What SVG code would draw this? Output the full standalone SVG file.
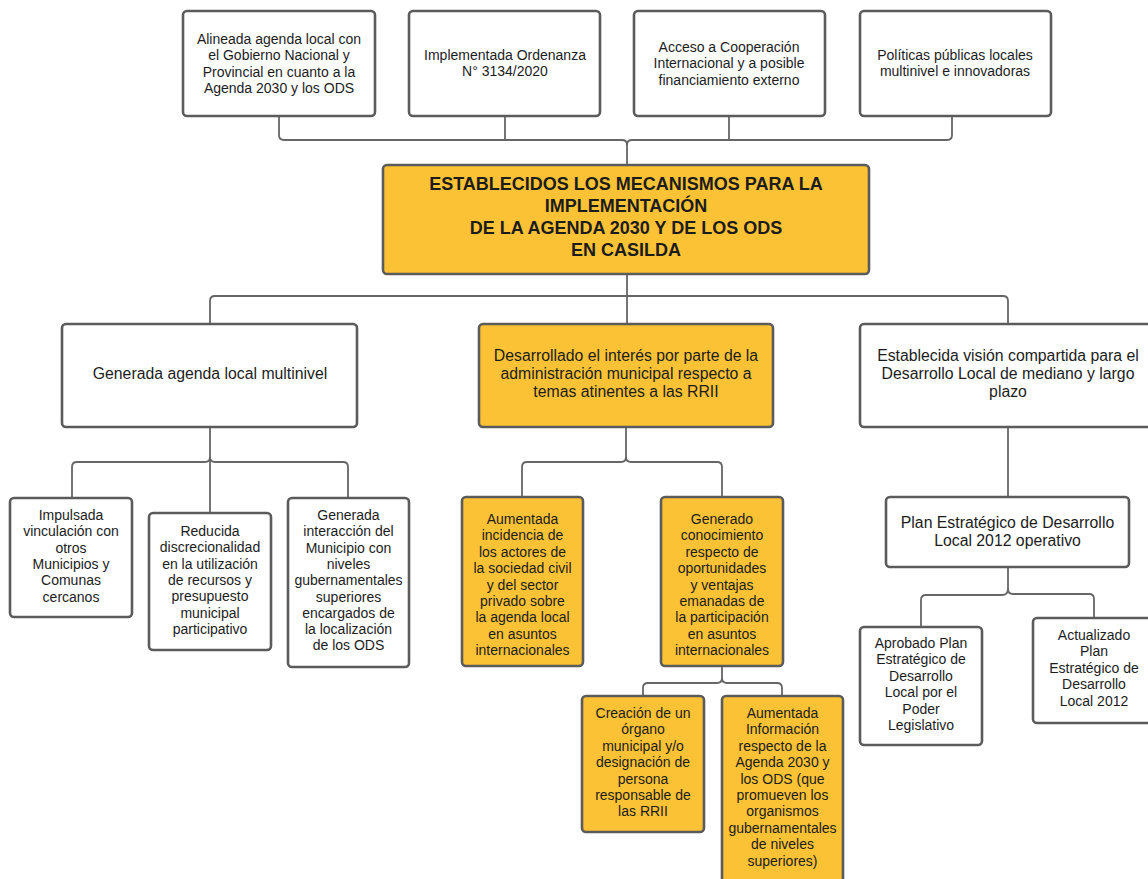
<svg xmlns="http://www.w3.org/2000/svg" width="1148" height="879" viewBox="0 0 1148 879">
<style>
.b{fill:#ffffff;stroke:#5b5b5b;stroke-width:2.6}
.y{fill:#fbc236;stroke:#5b5b5b;stroke-width:2.6}
.c{fill:none;stroke:#666666;stroke-width:1.8}
text{font-family:"Liberation Sans",Arial,sans-serif;fill:#1c1c1c;text-anchor:middle}
.t14{font-size:14px}
.t16{font-size:15.8px}
.tb{font-size:18px;font-weight:bold}
</style>
<rect width="1148" height="879" fill="#ffffff"/>
<g id="connectors">
<path class="c" d="M279 116 V135 Q279 140 284 140 H622 Q627 140 627 145 V165"/>
<path class="c" d="M952 116 V135 Q952 140 947 140 H632 Q627 140 627 145"/>
<path class="c" d="M505 116 V140"/>
<path class="c" d="M729 116 V140"/>
<path class="c" d="M627 274 V324"/>
<path class="c" d="M210 324 V301 Q210 296 215 296 H1003 Q1008 296 1008 301 V324"/>
<path class="c" d="M210 427 V513"/>
<path class="c" d="M210 457 Q210 462 205 462 H77 Q72 462 72 467 V498"/>
<path class="c" d="M210 457 Q210 462 215 462 H343 Q348 462 348 467 V498"/>
<path class="c" d="M626 427 V457 Q626 462 621 462 H527 Q522 462 522 467 V497"/>
<path class="c" d="M626 457 Q626 462 631 462 H717 Q722 462 722 467 V497"/>
<path class="c" d="M722 666 V678 Q722 683 717 683 H648 Q643 683 643 688 V696"/>
<path class="c" d="M722 678 Q722 683 727 683 H777 Q782 683 782 688 V696"/>
<path class="c" d="M1008 427 V497"/>
<path class="c" d="M1008 567 V589 Q1008 595 1002 595 H926 Q921 595 921 600 V627"/>
<path class="c" d="M1008 589 Q1008 594 1013 594 H1089 Q1094 594 1094 599 V618"/>
</g>
<g id="top1"><rect class="b" x="183" y="11" width="192" height="105" rx="4"/>
<text class="t14"><tspan x="279" y="44">Alineada agenda local con</tspan><tspan x="279" y="60.3">el Gobierno Nacional y</tspan><tspan x="279" y="76.6">Provincial en cuanto a la</tspan><tspan x="279" y="92.9">Agenda 2030 y los ODS</tspan></text></g>
<g id="top2"><rect class="b" x="409" y="11" width="191" height="105" rx="4"/>
<text class="t14"><tspan x="505" y="60">Implementada Ordenanza</tspan><tspan x="505" y="76.3">N° 3134/2020</tspan></text></g>
<g id="top3"><rect class="b" x="634" y="11" width="191" height="105" rx="4"/>
<text class="t14"><tspan x="729" y="52">Acceso a Cooperación</tspan><tspan x="729" y="68.3">Internacional y a posible</tspan><tspan x="729" y="84.6">financiamiento externo</tspan></text></g>
<g id="top4"><rect class="b" x="860" y="11" width="191" height="105" rx="4"/>
<text class="t14"><tspan x="955" y="60">Políticas públicas locales</tspan><tspan x="955" y="76.3">multinivel e innovadoras</tspan></text></g>
<g id="main"><rect class="y" x="383" y="165" width="486" height="109" rx="4"/>
<text class="tb"><tspan x="626" y="190">ESTABLECIDOS LOS MECANISMOS PARA LA</tspan><tspan x="626" y="212">IMPLEMENTACIÓN</tspan><tspan x="626" y="234">DE LA AGENDA 2030 Y DE LOS ODS</tspan><tspan x="626" y="256">EN CASILDA</tspan></text></g>
<g id="mid1"><rect class="b" x="62" y="324" width="295" height="103" rx="4"/>
<text class="t16"><tspan x="210" y="378.5">Generada agenda local multinivel</tspan></text></g>
<g id="mid2"><rect class="y" x="479" y="324" width="294" height="103" rx="4"/>
<text class="t16"><tspan x="626" y="360.5">Desarrollado el interés por parte de la</tspan><tspan x="626" y="378.5">administración municipal respecto a</tspan><tspan x="626" y="396.5">temas atinentes a las RRII</tspan></text></g>
<g id="mid3"><rect class="b" x="860" y="324" width="296" height="103" rx="4"/>
<text class="t16"><tspan x="1008" y="360.5">Establecida visión compartida para el</tspan><tspan x="1008" y="378.5">Desarrollo Local de mediano y largo</tspan><tspan x="1008" y="396.5">plazo</tspan></text></g>
<g id="n_a"><rect class="b" x="10" y="498" width="122" height="119" rx="4"/>
<text class="t14"><tspan x="71" y="520">Impulsada</tspan><tspan x="71" y="536.3">vinculación con</tspan><tspan x="71" y="552.6">otros</tspan><tspan x="71" y="568.9">Municipios y</tspan><tspan x="71" y="585.2">Comunas</tspan><tspan x="71" y="601.5">cercanos</tspan></text></g>
<g id="n_b"><rect class="b" x="149" y="513" width="122" height="137" rx="4"/>
<text class="t14"><tspan x="210" y="536">Reducida</tspan><tspan x="210" y="552.3">discrecionalidad</tspan><tspan x="210" y="568.6">en la utilización</tspan><tspan x="210" y="584.9">de recursos y</tspan><tspan x="210" y="601.2">presupuesto</tspan><tspan x="210" y="617.5">municipal</tspan><tspan x="210" y="633.8">participativo</tspan></text></g>
<g id="n_c"><rect class="b" x="288" y="498" width="121" height="169" rx="4"/>
<text class="t14"><tspan x="348.5" y="520">Generada</tspan><tspan x="348.5" y="536.3">interacción del</tspan><tspan x="348.5" y="552.6">Municipio con</tspan><tspan x="348.5" y="568.9">niveles</tspan><tspan x="348.5" y="585.2">gubernamentales</tspan><tspan x="348.5" y="601.5">superiores</tspan><tspan x="348.5" y="617.8">encargados de</tspan><tspan x="348.5" y="634.1">la localización</tspan><tspan x="348.5" y="650.4">de los ODS</tspan></text></g>
<g id="n_d"><rect class="y" x="462" y="497" width="121" height="169" rx="4"/>
<text class="t14"><tspan x="522.5" y="524">Aumentada</tspan><tspan x="522.5" y="540.4">incidencia de</tspan><tspan x="522.5" y="556.8">los actores de</tspan><tspan x="522.5" y="573.2">la sociedad civil</tspan><tspan x="522.5" y="589.6">y del sector</tspan><tspan x="522.5" y="606">privado sobre</tspan><tspan x="522.5" y="622.4">la agenda local</tspan><tspan x="522.5" y="638.8">en asuntos</tspan><tspan x="522.5" y="655.2">internacionales</tspan></text></g>
<g id="n_e"><rect class="y" x="661" y="497" width="122" height="169" rx="4"/>
<text class="t14"><tspan x="722" y="524">Generado</tspan><tspan x="722" y="540.4">conocimiento</tspan><tspan x="722" y="556.8">respecto de</tspan><tspan x="722" y="573.2">oportunidades</tspan><tspan x="722" y="589.6">y ventajas</tspan><tspan x="722" y="606">emanadas de</tspan><tspan x="722" y="622.4">la participación</tspan><tspan x="722" y="638.8">en asuntos</tspan><tspan x="722" y="655.2">internacionales</tspan></text></g>
<g id="n_f"><rect class="y" x="582" y="696" width="122" height="136" rx="4"/>
<text class="t14"><tspan x="643" y="718">Creación de un</tspan><tspan x="643" y="734.4">órgano</tspan><tspan x="643" y="750.8">municipal y/o</tspan><tspan x="643" y="767.2">designación de</tspan><tspan x="643" y="783.6">persona</tspan><tspan x="643" y="800">responsable de</tspan><tspan x="643" y="816.4">las RRII</tspan></text></g>
<g id="n_g"><rect class="y" x="722" y="696" width="121" height="188" rx="4"/>
<text class="t14"><tspan x="782.5" y="718">Aumentada</tspan><tspan x="782.5" y="734.4">Información</tspan><tspan x="782.5" y="750.8">respecto de la</tspan><tspan x="782.5" y="767.2">Agenda 2030 y</tspan><tspan x="782.5" y="783.6">los ODS (que</tspan><tspan x="782.5" y="800">promueven los</tspan><tspan x="782.5" y="816.4">organismos</tspan><tspan x="782.5" y="832.8">gubernamentales</tspan><tspan x="782.5" y="849.2">de niveles</tspan><tspan x="782.5" y="865.6">superiores)</tspan></text></g>
<g id="plan"><rect class="b" x="886" y="497" width="243" height="70" rx="4"/>
<text class="t16"><tspan x="1007.5" y="527.5">Plan Estratégico de Desarrollo</tspan><tspan x="1007.5" y="545.5">Local 2012 operativo</tspan></text></g>
<g id="n_h"><rect class="b" x="860" y="627" width="122" height="118" rx="4"/>
<text class="t14"><tspan x="921" y="648">Aprobado Plan</tspan><tspan x="921" y="664.4">Estratégico de</tspan><tspan x="921" y="680.8">Desarrollo</tspan><tspan x="921" y="697.2">Local por el</tspan><tspan x="921" y="713.6">Poder</tspan><tspan x="921" y="730">Legislativo</tspan></text></g>
<g id="n_i"><rect class="b" x="1033" y="618" width="122" height="105" rx="4"/>
<text class="t14"><tspan x="1094" y="640">Actualizado</tspan><tspan x="1094" y="656.4">Plan</tspan><tspan x="1094" y="672.8">Estratégico de</tspan><tspan x="1094" y="689.2">Desarrollo</tspan><tspan x="1094" y="705.6">Local 2012</tspan></text></g>
</svg>
